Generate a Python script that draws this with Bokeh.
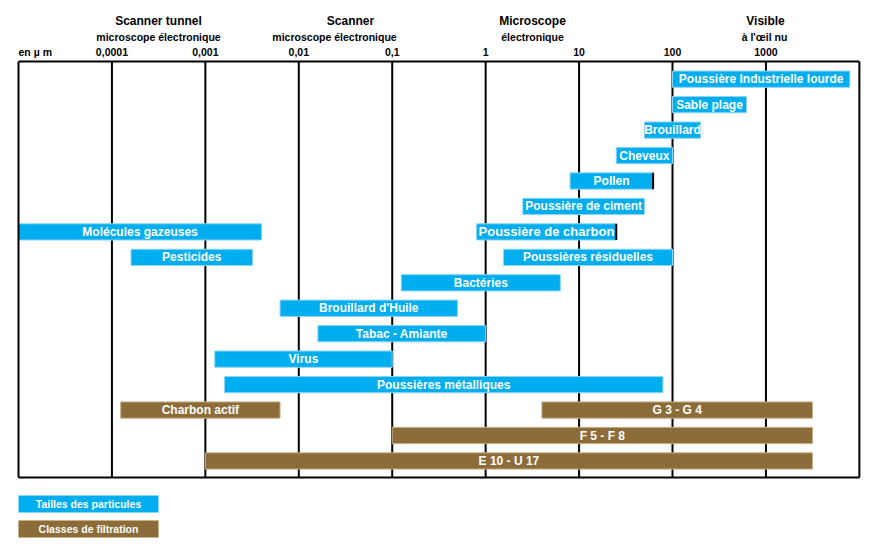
import math
from bokeh.plotting import figure
from bokeh.models import ColumnDataSource, Range1d
from bokeh.core.properties import value
from bokeh.embed import file_html
from bokeh.resources import INLINE

# ---------------- data ----------------
labels = ["Poussière Industrielle lourde", "Sable plage", "Brouillard", "Cheveux",
          "Pollen", "Poussière de ciment", "Poussière de charbon", "Molécules gazeuses",
          "Pesticides", "Poussières résiduelles", "Bactéries", "Brouillard d'Huile",
          "Tabac - Amiante", "Virus", "Poussières métalliques", "Charbon actif",
          "G 3 - G 4", "F 5 - F 8", "E 10 - U 17"]
starts = [100, 100, 50, 25, 8, 2.5, 0.8, 0.00001, 0.00016, 1.55, 0.125, 0.0063,
          0.016, 0.00126, 0.0016, 0.000124, 4, 0.1, 0.001]
ends = [7900, 620, 200, 100, 62, 50, 25, 0.004, 0.0032, 100, 6.3, 0.5,
        1, 0.1, 79, 0.0063, 3150, 3150, 3150]
rows = [0, 1, 2, 3, 4, 5, 6, 6, 7, 7, 8, 9, 10, 11, 12, 13, 13, 14, 15]
kinds = ["p"] * 15 + ["f"] * 4   # p = particle size, f = filtration class

tick_values = [1e-4, 1e-3, 1e-2, 1e-1, 1, 10, 100, 1000]
tick_labels = ["0,0001", "0,001", "0,01", "0,1", "1", "10", "100", "1000"]
unit_label = "en µ m"
x_min, x_max = 1e-5, 1e4

header_titles = ["Scanner tunnel", "Scanner", "Microscope", "Visible"]
header_subs = ["microscope électronique", "microscope électronique", "électronique", "à l'œil nu"]

legend_labels = ["Tailles des particules", "Classes de filtration"]

# ---------------- style / layout ----------------
CYAN = "#00AEEF"
BROWN = "#8C6D3A"
FONT = "Liberation Sans"
edge_marked = ["Pollen", "Poussière de charbon"]
label_sizes = {"Poussière de charbon": "13px"}

W, H = 864, 545
PX_DEC = 93.43          # pixels per decade
LEFT_PX = 18            # canvas px of x_min
ROW0_PX = 78.7          # canvas px of row 0 centre
ROW_PX = 25.45          # px per row

x_start = 10 ** (math.log10(x_min) - LEFT_PX / PX_DEC)
x_end = 10 ** (math.log10(x_min) + (W - LEFT_PX) / PX_DEC)
def ry(px):  # canvas pixel y -> row units
    return (px - ROW0_PX) / ROW_PX
def lx(px):  # canvas pixel x -> data x
    return 10 ** (math.log10(x_min) + (px - LEFT_PX) / PX_DEC)

p = figure(width=W, height=H, x_axis_type="log",
           x_range=Range1d(x_start, x_end), y_range=Range1d(ry(H), ry(0)),
           x_axis_location=None, y_axis_location=None,
           output_backend="svg", toolbar_location=None, min_border=0)
p.grid.visible = False
p.outline_line_color = None
p.background_fill_color = "white"
p.border_fill_color = "white"

top_row = ry(61)
bot_row = ry(477)
bar_h = 0.64

# vertical decade lines
p.segment(x0=tick_values, x1=tick_values, y0=[top_row] * len(tick_values),
          y1=[bot_row] * len(tick_values), line_color="black", line_width=2)

# bars
colors = [CYAN if k == "p" else BROWN for k in kinds]
edges = ["#8fd6f4" if k == "p" else "#c9b28a" for k in kinds]
src = ColumnDataSource(dict(left=starts, right=ends, y=rows, color=colors, edge=edges))
p.hbar(y="y", left="left", right="right", height=bar_h, source=src,
       fill_color="color", line_color="edge", line_width=1)

# dark right edges on some bars
em_x = [ends[labels.index(n)] for n in edge_marked]
em_y = [rows[labels.index(n)] for n in edge_marked]
p.segment(x0=em_x, x1=em_x, y0=[y - bar_h / 2 for y in em_y], y1=[y + bar_h / 2 for y in em_y],
          line_color="black", line_width=2)

# bar labels
for lab, s, e, r in zip(labels, starts, ends, rows):
    xc = math.sqrt(s * e)
    p.text(x=[xc], y=[r], text=[lab], text_color="white", text_align="center",
           text_baseline="middle", text_font=value(FONT), text_font_style="bold",
           text_font_size=label_sizes.get(lab, "12px"))

# frame
p.segment(x0=[x_min, x_max, x_min, x_min], x1=[x_min, x_max, x_max, x_max],
          y0=[top_row, top_row, top_row, bot_row], y1=[bot_row, bot_row, top_row, bot_row],
          line_color="black", line_width=2)

# tick labels
tick_y = ry(51.7)
p.text(x=tick_values, y=[tick_y] * len(tick_values), text=tick_labels, text_align="center",
       text_baseline="middle", text_font=value(FONT), text_font_style="bold",
       text_font_size="10.5px", text_color="black")
p.text(x=[x_min], y=[tick_y], text=[unit_label], text_align="left",
       text_baseline="middle", text_font=value(FONT), text_font_style="bold",
       text_font_size="10.5px", text_color="black")

# headers
title_x = [lx(158), lx(350), lx(532), lx(765)]
sub_x = [lx(158), lx(334), lx(532), lx(764)]
p.text(x=title_x, y=[ry(20)] * 4, text=header_titles, text_align="center",
       text_baseline="middle", text_font=value(FONT), text_font_style="bold",
       text_font_size="12px", text_color="black")
p.text(x=sub_x, y=[ry(36.7)] * 4, text=header_subs, text_align="center",
       text_baseline="middle", text_font=value(FONT), text_font_style="bold",
       text_font_size="10.5px", text_color="black")

# legend boxes
leg_right = lx(158)
leg_top = [ry(495), ry(520)]
leg_bot = [ry(512), ry(537)]
p.quad(left=[x_min] * 2, right=[leg_right] * 2, top=leg_top, bottom=leg_bot,
       fill_color=[CYAN, BROWN], line_color=["#8fd6f4", "#c9b28a"], line_width=1)
p.text(x=[math.sqrt(x_min * leg_right)] * 2,
       y=[(a + b) / 2 for a, b in zip(leg_top, leg_bot)], text=legend_labels,
       text_align="center", text_baseline="middle", text_font=value(FONT),
       text_font_style="bold", text_font_size="10.5px", text_color="white")

open("out.html", "w").write(file_html(p, INLINE))
